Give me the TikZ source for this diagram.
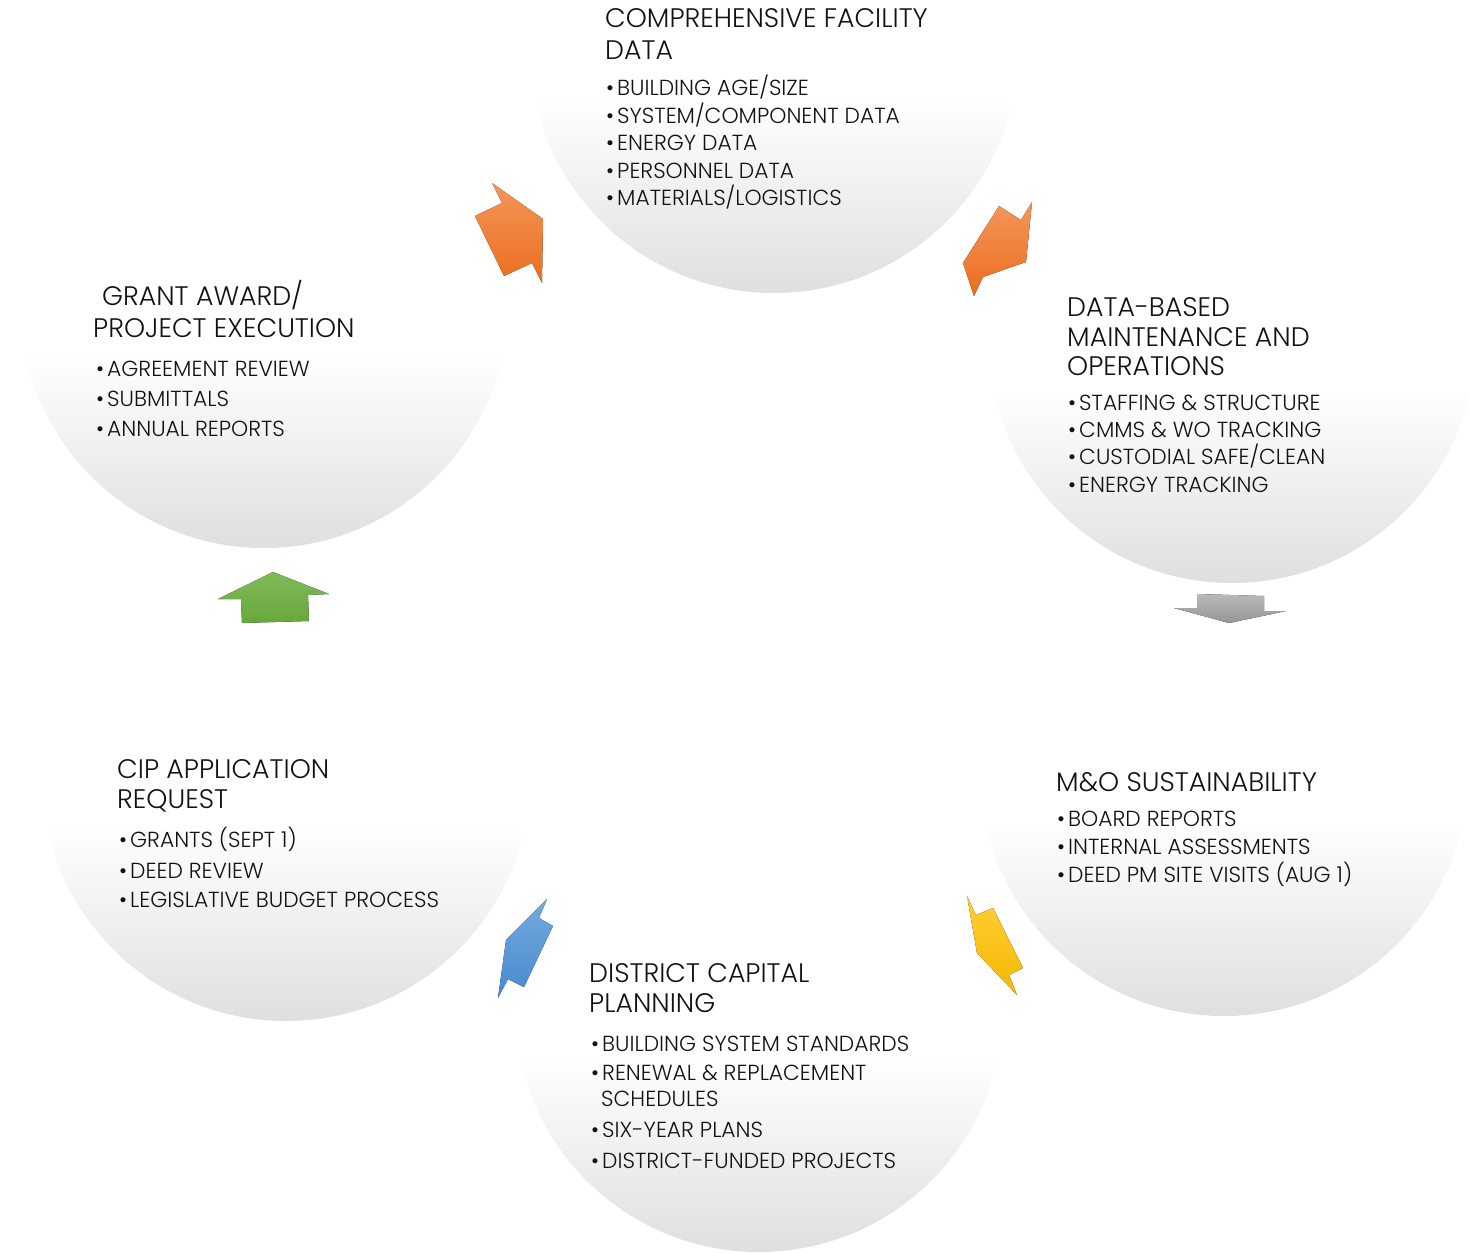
\documentclass[tikz,border=0pt]{standalone}
\usepackage{fontspec}
\IfFontExistsTF{Poppins Light}{\setmainfont{Poppins Light}}{\setmainfont{Poppins}}
\definecolor{discgray}{RGB}{223,223,223}
\definecolor{discmid}{RGB}{236,236,236}
\definecolor{txt}{RGB}{18,18,18}
\pgfdeclareverticalshading{discfade}{100bp}{color(0bp)=(discgray); color(25bp)=(discgray); color(33bp)=(discmid); color(45bp)=(white); color(100bp)=(white)}
\begin{document}
\begin{tikzpicture}[x=1pt,y=-1pt,
  disc/.style={circle, minimum size=488pt, inner sep=0pt, shade, shading=discfade},
  ttl/.style={anchor=base west, inner sep=0pt, text=txt, font=\fontsize{26.8}{30}\selectfont},
  itm/.style={anchor=base west, inner sep=0pt, text=txt, font=\fontsize{21.8}{26}\selectfont},
  blt/.style={itm, execute at begin node={\llap{\textbullet\hspace{3pt}}}},
]
\clip (0,0) rectangle (1470,1253);
\useasboundingbox (0,0) rectangle (1470,1253);

% the six stage discs (lower ones first, so the upper rims stay on top)
\node[disc] (c3) at (1224,772) {};
\node[disc] (c5) at (286,777) {};
\node[disc] (c1) at (774,49) {};
\node[disc] (c2) at (1232,339) {};
\node[disc] (c4) at (759,1008) {};
\node[disc] (c6) at (264,304) {};

% stage 1
\node[ttl] (t1a) at (605,27) {COMPREHENSIVE FACILITY};
\node[ttl] (t1b) at (605,59) {DATA};
\node[blt] (b1a) at (617,95) {BUILDING AGE/SIZE};
\node[blt] (b1b) at (617,123) {SYSTEM/COMPONENT DATA};
\node[blt] (b1c) at (617,150) {ENERGY DATA};
\node[blt] (b1d) at (617,178) {PERSONNEL DATA};
\node[blt] (b1e) at (617,205) {MATERIALS/LOGISTICS};

% stage 2
\node[ttl] (t2a) at (1067,316) {DATA-BASED};
\node[ttl] (t2b) at (1067,346) {MAINTENANCE AND};
\node[ttl] (t2c) at (1067,375) {OPERATIONS};
\node[blt] (b2a) at (1079,410) {STAFFING \& STRUCTURE};
\node[blt] (b2b) at (1079,437) {CMMS \& WO TRACKING};
\node[blt] (b2c) at (1079,464) {CUSTODIAL SAFE/CLEAN};
\node[blt] (b2d) at (1079,492) {ENERGY TRACKING};

% stage 3
\node[ttl] (t3a) at (1056,791) {M\&O SUSTAINABILITY};
\node[blt] (b3a) at (1068,826) {BOARD REPORTS};
\node[blt] (b3b) at (1068,854) {INTERNAL ASSESSMENTS};
\node[blt] (b3c) at (1068,882) {DEED PM SITE VISITS (AUG 1)};

% stage 4
\node[ttl] (t4a) at (589,982) {DISTRICT CAPITAL};
\node[ttl] (t4b) at (589,1012) {PLANNING};
\node[blt] (b4a) at (602,1051) {BUILDING SYSTEM STANDARDS};
\node[blt] (b4b) at (602,1080) {RENEWAL \& REPLACEMENT};
\node[itm] (b4c) at (601,1106) {SCHEDULES};
\node[blt] (b4d) at (602,1137) {SIX-YEAR PLANS};
\node[blt] (b4e) at (602,1168) {DISTRICT-FUNDED PROJECTS};

% stage 5
\node[ttl] (t5a) at (117,778) {CIP APPLICATION};
\node[ttl] (t5b) at (117,808) {REQUEST};
\node[blt] (b5a) at (130,847) {GRANTS (SEPT 1)};
\node[blt] (b5b) at (130,878) {DEED REVIEW};
\node[blt] (b5c) at (130,907) {LEGISLATIVE BUDGET PROCESS};

% stage 6
\node[ttl] (t6a) at (102,305) {GRANT AWARD/};
\node[ttl] (t6b) at (93,337) {PROJECT EXECUTION};
\node[blt] (b6a) at (107,376) {AGREEMENT REVIEW};
\node[blt] (b6b) at (107,406) {SUBMITTALS};
\node[blt] (b6c) at (107,436) {ANNUAL REPORTS};

% block arrows between the stages
\fill[top color={rgb,255:red,245;green,150;blue,90}, bottom color={rgb,255:red,234;green,110;blue,30}]
  (492,183) -- (502,203) -- (475,216) -- (504,276) -- (532,263) -- (542,283) -- (543,219) -- cycle;
\fill[top color={rgb,255:red,245;green,150;blue,90}, bottom color={rgb,255:red,234;green,110;blue,30}]
  (999,206) -- (1021,220) -- (1032,202) -- (1026,262) -- (983,277) -- (974,296) -- (963,263) -- cycle;
\fill[top color={rgb,255:red,185;green,185;blue,185}, bottom color={rgb,255:red,150;green,150;blue,150}]
  (1197,594) -- (1264,596) -- (1264,611) -- (1286,611) -- (1229,623) -- (1174,608) -- (1197,608) -- cycle;
\fill[top color={rgb,255:red,255;green,205;blue,55}, bottom color={rgb,255:red,245;green,185;blue,0}]
  (967,896) -- (976,915) -- (993,908) -- (1023,968) -- (1009,975) -- (1017,995) -- (977,953) -- cycle;
\fill[top color={rgb,255:red,115;green,170;blue,222}, bottom color={rgb,255:red,72;green,138;blue,207}]
  (547,899) -- (539,918) -- (553,926) -- (524,987) -- (508,979) -- (498,998) -- (506,940) -- cycle;
\fill[top color={rgb,255:red,128;green,186;blue,90}, bottom color={rgb,255:red,102;green,168;blue,58}]
  (273,572) -- (329,594) -- (308,595) -- (309,621) -- (242,623) -- (241,599) -- (218,599) -- cycle;
\end{tikzpicture}
\end{document}
